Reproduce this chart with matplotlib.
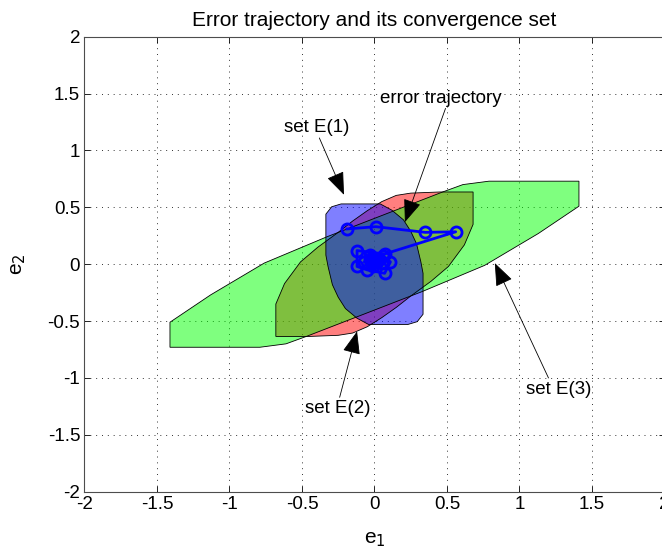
# Error trajectory and its convergence sets E(1), E(2), E(3)
import matplotlib
matplotlib.use('Agg')
import matplotlib.pyplot as plt
from matplotlib.patches import Polygon

plt.rcParams['font.family'] = ['Liberation Sans', 'DejaVu Sans']

# ----------------------------------------------------------------------
# Data

# set E(3), green
e3_x = [1.41, 1.41, 0.79, 0.61, 0.47, -0.33, -0.76, -1.13, -1.41,
        -1.41, -0.79, -0.61, -0.47, 0.33, 0.76, 1.13]
e3_y = [0.51, 0.73, 0.73, 0.70, 0.635, 0.24, 0.01, -0.27, -0.51,
        -0.73, -0.73, -0.70, -0.635, -0.24, -0.01, 0.27]

# set E(2), red
e2_x = [0.68, 0.68, 0.45, 0.25, 0.15, 0.05, -0.05, -0.15, -0.25, -0.39, -0.51, -0.62,
        -0.68, -0.68, -0.45, -0.25, -0.15, -0.05, 0.05, 0.15, 0.25, 0.39, 0.51, 0.62]
e2_y = [0.35, 0.635, 0.635, 0.625, 0.605, 0.55, 0.47, 0.38, 0.28, 0.15, 0.02, -0.17,
        -0.35, -0.635, -0.635, -0.625, -0.605, -0.55, -0.47, -0.38, -0.28, -0.15, -0.02, 0.17]

# set E(1), blue
e1_x = [0.335, 0.335, 0.32, 0.29, 0.25, 0.20, 0.12, 0.04, -0.23, -0.295,
        -0.335, -0.335, -0.32, -0.29, -0.25, -0.20, -0.12, -0.04, 0.23, 0.295]
e1_y = [-0.44, -0.08, 0.02, 0.18, 0.29, 0.39, 0.475, 0.53, 0.53, 0.505,
        0.44, 0.08, -0.02, -0.18, -0.29, -0.39, -0.475, -0.53, -0.53, -0.505]

# error trajectory
traj_x = [-0.19, 0.01, 0.35, 0.56, 0.07, -0.12, -0.12, -0.05, 0.07, 0.11,
          0.06, -0.03, -0.07, -0.01, 0.05, 0.03, -0.03, -0.01, 0.02, 0.0,
          0.01, 0.0, -0.02, 0.01, 0.0]
traj_y = [0.31, 0.33, 0.28, 0.285, 0.09, 0.12, -0.02, -0.05, -0.08, 0.02,
          0.07, 0.08, 0.02, -0.02, 0.01, 0.05, 0.05, 0.01, 0.02, 0.04,
          0.03, 0.03, 0.03, 0.04, 0.035]

# annotations: label, text position, arrow tail, arrow tip
notes = [
    ('set E(1)', (-0.40, 1.20), (-0.38, 1.11), (-0.21, 0.61)),
    ('error trajectory', (0.46, 1.46), (0.49, 1.37), (0.21, 0.37)),
    ('set E(2)', (-0.25, -1.27), (-0.24, -1.17), (-0.12, -0.59)),
    ('set E(3)', (1.27, -1.10), (1.20, -1.00), (0.83, 0.01)),
]

# ----------------------------------------------------------------------
# Create the plot

fig = plt.figure(figsize=(6.62, 5.52), dpi=100)
ax = fig.add_axes([0.1275, 0.1092, 0.8763, 0.8243])

for xs, ys, col in [(e2_x, e2_y, (1, 0, 0)),
                    (e3_x, e3_y, (0, 1, 0)),
                    (e1_x, e1_y, (0, 0, 1))]:
    ax.add_patch(Polygon(list(zip(xs, ys)), closed=True, facecolor=col,
                         alpha=0.5, edgecolor='none', zorder=2))
    ax.add_patch(Polygon(list(zip(xs, ys)), closed=True, facecolor='none',
                         edgecolor='k', lw=0.6, zorder=2.1))

ax.plot(traj_x, traj_y, '-o', color='b', lw=2, ms=8, mfc='none',
        mew=2, zorder=3)

for label, tpos, tail, tip in notes:
    ax.text(tpos[0], tpos[1], label, ha='center', va='center', fontsize=13.5, zorder=4)
    ax.annotate('', xy=tip, xytext=tail,
                arrowprops=dict(arrowstyle='-|>,head_length=0.9,head_width=0.35',
                                color='k', lw=0.6, shrinkA=0, shrinkB=0,
                                mutation_scale=16), zorder=4)

ax.set_xlim(-2, 2)
ax.set_ylim(-2, 2)
ax.set_xticks([-2, -1.5, -1, -0.5, 0, 0.5, 1, 1.5, 2])
ax.set_yticks([-2, -1.5, -1, -0.5, 0, 0.5, 1, 1.5, 2])
ax.set_xticklabels(['-2', '-1.5', '-1', '-0.5', '0', '0.5', '1', '1.5', '2'])
ax.set_yticklabels(['-2', '-1.5', '-1', '-0.5', '0', '0.5', '1', '1.5', '2'])
ax.tick_params(direction='in', top=True, right=True, length=4, width=0.6,
               labelsize=13.5, pad=3)
ax.grid(True, color='0.2', lw=0.7, linestyle=(0, (1, 5)))
ax.set_axisbelow(True)
for s in ax.spines.values():
    s.set_linewidth(0.8)
    s.set_color('0.3')

ax.set_xlabel('e$_1$', fontsize=15, labelpad=12)
ax.set_ylabel('e$_2$', fontsize=15, labelpad=14)
ax.set_title('Error trajectory and its convergence set', fontsize=15, pad=8)

fig.savefig('out.png', dpi=100)
